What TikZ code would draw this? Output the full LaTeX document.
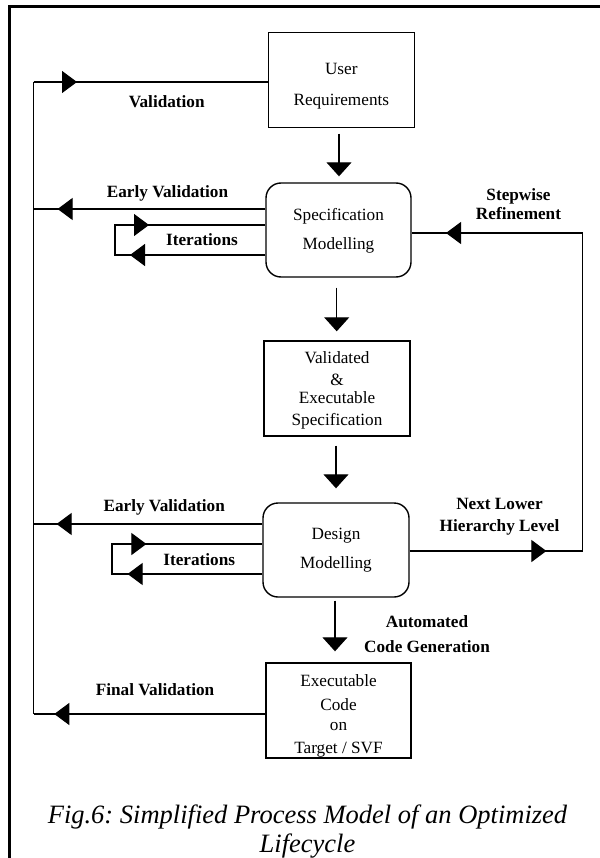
\documentclass[tikz,border=0pt]{standalone}
\usepackage{fontspec}
\setmainfont{Liberation Serif}
\usetikzlibrary{arrows.meta,decorations.markings}
\frenchspacing
\begin{document}
\begin{tikzpicture}[x=1pt,y=-1pt,
  every node/.style={inner sep=0pt, font=\fontsize{17.2}{22}\selectfont},
  stage/.style={draw, line width=1.4pt, rectangle, align=center},
  softstage/.style={stage, rounded corners=15pt},
  flow/.style={line width=1.1pt},
  downflow/.style={flow, -{Triangle[length=14pt,width=25pt]}},
  tipat/.style={postaction={decorate, decoration={markings,
      mark=at position #1 with {\arrow{Triangle[length=15pt,width=22pt]}}}}},
  tag/.style={font=\fontsize{17.2}{22}\selectfont\bfseries, align=center},
]
\useasboundingbox (0,0) rectangle (599,858);

% page frame
\draw[line width=2.6pt] (9.5,870) -- (9.5,6.7) -- (610,6.7);

% process stages
\node[stage, minimum width=146pt, minimum height=95.4pt] (ur) at (341.3,80)
  {\rule{0pt}{22.7pt}User\\[9pt]Requirements};
\node[softstage, minimum width=145pt, minimum height=94pt] (spec) at (338.5,230)
  {\rule{0pt}{14.4pt}Specification\\[7.3pt]Modelling};
\node[stage, minimum width=146pt, minimum height=95pt] (valid) at (337,388.5)
  {\rule{0pt}{15pt}Validated\\[0.4pt]\&\\[-4.4pt]Executable\\[-0.3pt]Specification};
\node[softstage, minimum width=146pt, minimum height=94pt] (design) at (336,550)
  {Design\\[7pt]Modelling};
\node[stage, minimum width=145pt, minimum height=95pt] (exec) at (338.5,710.5)
  {\rule{0pt}{22.7pt}Executable\\[1.3pt]Code\\[-2pt]on\\[1.3pt]Target / SVF};

% main flow downwards
\coordinate (d1) at ([xshift=-2.3pt]ur.south);
\coordinate (d2) at ([xshift=-1.8pt]spec.south);
\coordinate (d3) at ([xshift=-1pt]valid.south);
\coordinate (d4) at ([xshift=-1pt]design.south);
\draw[downflow, shorten <=5.3pt, shorten >=6pt] (d1) -- (d1 |- spec.north);
\draw[downflow, shorten <=10pt, shorten >=9pt] (d2) -- (d2 |- valid.north);
\draw[downflow, shorten <=9pt, shorten >=14pt] (d3) -- (d3 |- design.north);
\draw[downflow, shorten <=3pt, shorten >=11pt] (d4) -- (d4 |- exec.north);

% validation spine on the left
\coordinate (jv) at (33.5,82);
\coordinate (e1) at (33.5,209);
\coordinate (e2) at (33.5,524);
\coordinate (jf) at (33.5,714);
\draw[flow] (jv) -- (jf);
\draw[flow, tipat=43.5pt] (jv) -- (jv -| ur.west);
\draw[flow, tipat=207.7pt] (spec.west |- e1) -- (e1);
\draw[flow, tipat=205.7pt] (design.west |- e2) -- (e2);
\draw[flow, tipat=211pt] (exec.west |- jf) -- (jf);

% iteration loops
\coordinate (i1) at (115,225);
\coordinate (i1b) at (115,255);
\draw[flow, tipat=135.3pt, tipat=214.3pt]
  (spec.west |- i1b) -- (i1b) -- (i1) -- (spec.west |- i1);
\coordinate (i2) at (112,544);
\coordinate (i2b) at (112,574);
\draw[flow, tipat=134.7pt, tipat=214.7pt]
  (design.west |- i2b) -- (i2b) -- (i2) -- (design.west |- i2);

% refinement loop on the right
\coordinate (r1) at (582.7,233);
\coordinate (r2) at (582.7,551);
\draw[flow, tipat=136.7pt, tipat=627.7pt]
  (design.east |- r2) -- (r2) -- (r1) -- (spec.east |- r1);

% labels
\node[tag, anchor=base] (lval) at (166.7,107.3) {Validation};
\node[tag, anchor=base] (lev1) at (167.5,197.7) {Early Validation};
\node[tag, anchor=base] (lit1) at (202,245.7) {Iterations};
\node[tag] (lstep) at (518.5,203.65) {Stepwise\\[-3pt]Refinement};
\node[tag, anchor=base] (lev2) at (164.2,511.7) {Early Validation};
\node[tag, anchor=base] (lit2) at (199.2,565.7) {Iterations};
\node[tag] (lnext) at (499.5,516.85) {Next Lower\\[-0.3pt]Hierarchy Level};
\node[tag] (lauto) at (427,634.15) {Automated\\[3.4pt]Code Generation};
\node[tag, anchor=base] (lfin) at (155,695.7) {Final Validation};

% caption
\node[font=\fontsize{26.5}{29}\selectfont\itshape, align=center] (cap) at (307.5,831.3)
  {Fig.6: Simplified Process Model of an Optimized\\Lifecycle};
\end{tikzpicture}
\end{document}
